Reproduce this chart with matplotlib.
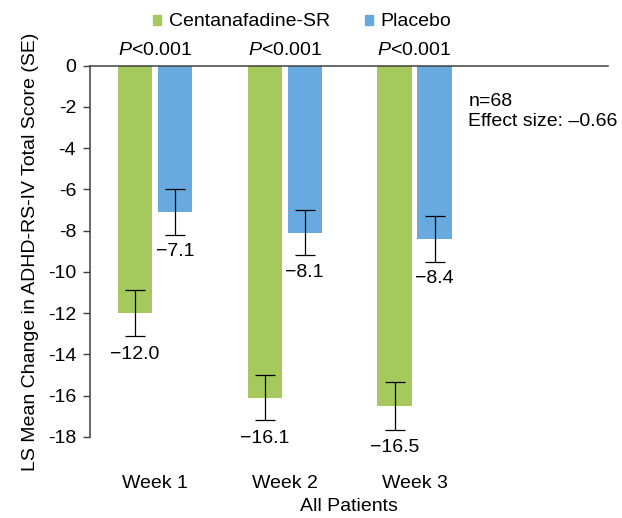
import numpy as np
import matplotlib
matplotlib.use("Agg")
import matplotlib.pyplot as plt
from matplotlib.patches import Patch

plt.rcParams["font.family"] = ["Liberation Sans", "DejaVu Sans"]
plt.rcParams["mathtext.fontset"] = "custom"
plt.rcParams["mathtext.rm"] = "Liberation Sans"
plt.rcParams["mathtext.it"] = "Liberation Sans:italic"

# --- data ---
weeks = ["Week 1", "Week 2", "Week 3"]
centanafadine = [-12.0, -16.1, -16.5]
centanafadine_se = [1.12, 1.1, 1.15]
placebo = [-7.1, -8.1, -8.4]
placebo_se = [1.1, 1.1, 1.1]
p_labels = ["<0.001", "<0.001", "<0.001"]
n_text = "n=68"
effect_text = "Effect size: \u20130.66"

green = "#A5C95C"
blue = "#68AADF"
axis_col = "#404040"

fig = plt.figure(figsize=(6.22, 5.18), dpi=100)
ax = fig.add_axes([90 / 622, 1 - 437 / 518, 518 / 622, (437 - 65.7) / 518])

x = np.arange(len(weeks))
w = 0.265
off = 0.154
ax.bar(x - off, centanafadine, w, color=green, zorder=2)
ax.bar(x + off, placebo, w, color=blue, zorder=2)
ax.errorbar(x - off, centanafadine, yerr=centanafadine_se, fmt="none",
            ecolor="black", elinewidth=0.9, capsize=7, capthick=0.9, zorder=3)
ax.errorbar(x + off, placebo, yerr=placebo_se, fmt="none",
            ecolor="black", elinewidth=0.9, capsize=7, capthick=0.9, zorder=3)

# value labels under the error bars
for xi, v, se in zip(x - off, centanafadine, centanafadine_se):
    ax.annotate(f"\u2212{abs(v):.1f}", (xi, v - se), xytext=(0, -13),
                textcoords="offset points", ha="center", va="center", fontsize=14)
for xi, v, se in zip(x + off, placebo, placebo_se):
    ax.annotate(f"\u2212{abs(v):.1f}", (xi, v - se), xytext=(0, -12),
                textcoords="offset points", ha="center", va="center", fontsize=14)

# p-values above groups
for xi, p in zip(x, p_labels):
    ax.annotate(r"$\mathit{P}$" + p, (xi, 0), xytext=(0, 11),
                textcoords="offset points", ha="center", va="center", fontsize=14)

ax.text(2.415, -2.22, n_text + "\n" + effect_text, ha="left", va="center",
        fontsize=14, linespacing=1.2)

ax.set_xlim(-0.5, 3.49)
ax.set_ylim(-18, 0)
yt = np.arange(0, -19, -2)
ax.set_yticks(yt)
ax.set_yticklabels([str(int(t)) for t in yt])
ax.set_xticks(x)
ax.set_xticklabels(weeks)
ax.tick_params(axis="x", length=0, pad=27, labelsize=14)
ax.tick_params(axis="y", length=5, width=1, color=axis_col, pad=5, labelsize=14)

for s in ["right", "bottom"]:
    ax.spines[s].set_visible(False)
for s in ["left", "top"]:
    ax.spines[s].set_color(axis_col)
    ax.spines[s].set_linewidth(1.1)

ax.set_xlabel("All Patients", fontsize=14, labelpad=5)
ax.set_ylabel("LS Mean Change in ADHD-RS-IV Total Score (SE)", fontsize=14, labelpad=6)

handles = [Patch(color=green, label="Centanafadine-SR"), Patch(color=blue, label="Placebo")]
fig.legend(handles=handles, loc="center", bbox_to_anchor=(302 / 622, 1 - 22 / 518),
           ncol=2, frameon=False, fontsize=14, handlelength=0.42, handleheight=0.42,
           handletextpad=0.4, columnspacing=1.8, borderpad=0)

fig.savefig("out.png", dpi=100)
